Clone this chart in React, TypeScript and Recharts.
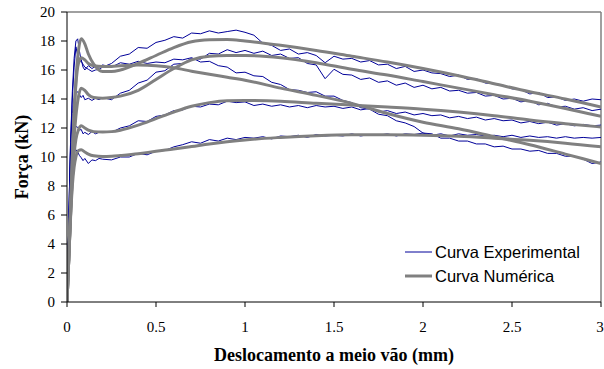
import React from "react";
import { Legend, Line, LineChart, ReferenceLine, XAxis, YAxis } from "recharts";

// x grid of the numerical (smooth) curves
const numX = [0, 0.01, 0.02, 0.03, 0.04, 0.05, 0.065, 0.08, 0.1, 0.12, 0.15, 0.2, 0.25, 0.3, 0.4, 0.5, 0.6, 0.7, 0.8, 0.9, 1.0, 1.2, 1.4, 1.6, 1.8, 2.0, 2.2, 2.4, 2.6, 2.8, 3.0];

const num1 = [0, 3, 6.5, 10, 13, 15.3, 17.4, 18.15, 17.8, 17.1, 16.4, 15.9, 15.9, 16.0, 16.45, 17.0, 17.55, 17.95, 18.08, 18.1, 18.0, 17.7, 17.35, 16.95, 16.55, 16.1, 15.6, 15.05, 14.5, 14.0, 13.45];
const num2 = [0, 3, 6, 9, 11.3, 12.8, 14.2, 14.75, 14.6, 14.3, 14.1, 14.05, 14.1, 14.2, 14.6, 15.35, 16.1, 16.7, 16.95, 17.0, 17.0, 16.85, 16.5, 16.05, 15.65, 15.2, 14.75, 14.3, 13.85, 13.35, 12.8];
const num3 = [0, 3, 6.5, 10, 13, 15.0, 16.5, 16.85, 16.7, 16.45, 16.3, 16.25, 16.25, 16.3, 16.35, 16.3, 16.15, 15.92, 15.7, 15.5, 15.3, 14.75, 14.25, 13.7, 13.0, 12.4, 11.95, 11.4, 10.85, 10.2, 9.55];
const num4 = [0, 3, 6, 8.5, 10.2, 11.2, 11.9, 12.15, 12.0, 11.85, 11.75, 11.72, 11.75, 11.85, 12.2, 12.65, 13.1, 13.5, 13.75, 13.88, 13.9, 13.85, 13.7, 13.58, 13.45, 13.3, 13.1, 12.85, 12.55, 12.3, 12.07];
const num5 = [0, 3, 5.8, 8, 9.3, 10.0, 10.45, 10.5, 10.35, 10.2, 10.08, 10.03, 10.05, 10.1, 10.22, 10.4, 10.55, 10.72, 10.9, 11.05, 11.18, 11.35, 11.47, 11.53, 11.53, 11.5, 11.43, 11.3, 11.15, 10.95, 10.7];

// x grid of the experimental (noisy) curves
const expX = [
  0, 0.005, 0.01, 0.015, 0.02, 0.03, 0.04, 0.05, 0.06, 0.07, 0.08, 0.09, 0.1, 0.12, 0.14, 0.16, 0.18, 0.2,
  0.25, 0.3, 0.35, 0.4, 0.45, 0.5, 0.55, 0.6, 0.65, 0.7, 0.75, 0.8, 0.85, 0.9, 0.95, 1.0,
  1.05, 1.1, 1.15, 1.2, 1.25, 1.3, 1.35, 1.4, 1.45, 1.5, 1.55, 1.6, 1.65, 1.7, 1.75, 1.8,
  1.85, 1.9, 1.95, 2.0, 2.05, 2.1, 2.15, 2.2, 2.25, 2.3, 2.35, 2.4, 2.45, 2.5, 2.55, 2.6,
  2.65, 2.7, 2.75, 2.8, 2.85, 2.9, 2.95, 3.0,
];

const exp1 = [
  0, 2.5, 5.5, 8.5, 11, 14.5, 16.8, 18.0, 18.15, 17.3, 16.6, 16.4, 16.2, 16.05, 15.9, 16.0, 16.05, 16.2,
  16.45, 16.95, 17.1, 17.55, 17.5, 17.9, 18.05, 18.3, 18.2, 18.55, 18.5, 18.7, 18.55, 18.65, 18.75, 18.6,
  18.4, 17.85, 17.7, 17.35, 17.45, 17.1, 17.2, 17.0, 16.5, 16.95, 16.75, 16.8, 16.55, 16.65, 16.35, 16.4,
  16.1, 16.25, 15.9, 16.0, 15.8, 15.75, 15.55, 15.65, 15.35, 15.4, 15.1, 15.05, 14.95, 14.7, 14.65, 14.35,
  14.45, 14.1, 14.15, 13.9, 14.0, 13.85, 14.0, 13.95,
];
const exp2 = [
  0, 2.5, 5.5, 8.5, 10.5, 13.0, 14.0, 14.4, 14.5, 14.3, 14.1, 14.25, 13.95, 14.05, 13.9, 14.05, 13.95, 14.1,
  13.95, 14.4, 14.6, 15.1, 15.3, 15.85, 15.95, 16.4, 16.45, 16.8, 16.75, 17.15, 17.1, 17.4, 17.2, 17.35,
  17.15, 17.3, 17.0, 17.1, 16.8, 16.85, 16.45, 16.35, 15.4, 16.05, 15.7, 15.65, 15.35, 15.45, 15.15, 15.25,
  14.95, 15.1, 14.8, 14.95, 14.7, 14.8, 14.55, 14.6, 14.4, 14.45, 14.2, 14.25, 14.0, 14.05, 13.8, 13.9,
  13.6, 13.7, 13.45, 13.5, 13.3, 13.4, 13.2, 13.3,
];
const exp3 = [
  0, 2.5, 5.5, 8.5, 11, 14.0, 16.2, 17.6, 17.0, 16.5, 16.7, 16.2, 16.0, 16.3, 16.1, 16.25, 16.2, 16.35,
  16.2, 16.5, 16.4, 16.6, 16.45, 16.55, 16.5, 16.75, 16.7, 16.85, 16.55, 16.6, 16.3, 16.2, 15.8, 15.85,
  15.6, 15.55, 15.15, 15.0, 14.65, 14.6, 14.45, 14.5, 14.2, 14.2, 13.9, 13.75, 13.4, 13.3, 12.95, 12.85,
  12.5, 12.35, 12.1, 11.65, 11.6, 11.3, 11.3, 11.1, 11.1, 10.9, 10.9, 10.7, 10.75, 10.55, 10.55, 10.4,
  10.45, 10.25, 10.25, 10.05, 10.05, 9.85, 9.55, 9.65,
];
const exp4 = [
  0, 2.5, 5.0, 7.5, 9.5, 11.2, 11.9, 12.1, 12.05, 11.85, 11.9, 11.6, 11.7, 11.55, 11.75, 11.6, 11.7, 11.75,
  11.7, 12.0, 12.15, 12.5, 12.45, 12.8, 12.9, 13.2, 13.25, 13.5, 13.45, 13.65, 13.6, 13.85, 13.75, 13.8,
  13.55, 13.65, 13.5, 13.6, 13.45, 13.55, 13.4, 13.55, 13.45, 13.5, 13.35, 13.45, 13.25, 13.35, 13.1, 13.2,
  13.0, 13.1, 12.9, 13.0, 12.85, 12.9, 12.7, 12.8, 12.65, 12.75, 12.55, 12.65, 12.5, 12.55, 12.35, 12.45,
  12.3, 12.4, 12.2, 12.3, 12.15, 12.25, 12.15, 12.2,
];
const exp5 = [
  0, 2.5, 5.0, 7.0, 8.5, 9.8, 10.3, 10.5, 10.35, 10.1, 9.95, 9.75, 9.9, 9.55, 9.8, 9.75, 9.9, 9.85,
  9.8, 10.0, 10.0, 10.25, 10.15, 10.4, 10.45, 10.7, 10.85, 11.05, 10.95, 11.2, 11.1, 11.3, 11.2, 11.35,
  11.3, 11.4, 11.25, 11.45, 11.4, 11.5, 11.35, 11.55, 11.45, 11.5, 11.45, 11.6, 11.45, 11.55, 11.5, 11.6,
  11.45, 11.6, 11.55, 11.65, 11.5, 11.6, 11.45, 11.6, 11.5, 11.55, 11.45, 11.5, 11.4, 11.5, 11.35, 11.45,
  11.35, 11.4, 11.3, 11.4, 11.3, 11.35, 11.3, 11.35,
];

const xTicks = [0, 0.5, 1, 1.5, 2, 2.5, 3];
const yTicks = [0, 2, 4, 6, 8, 10, 12, 14, 16, 18, 20];

const BLUE = "#000099";
const GRAY = "#808080";
const SERIF = '"Liberation Serif", "Times New Roman", serif';
const SANS = '"Liberation Sans", Arial, sans-serif';

const toPoints = (xs: number[], ys: number[]) => xs.map((x, i) => ({ x, y: ys[i] }));

const expSeries = [exp1, exp2, exp3, exp4, exp5].map((ys) => toPoints(expX, ys));
const numSeries = [num1, num2, num3, num4, num5].map((ys) => toPoints(numX, ys));

const legendItems = [
  { label: "Curva Experimental", color: BLUE, width: 1 },
  { label: "Curva Numérica", color: GRAY, width: 3 },
];

const tickFont = { fontFamily: SERIF, fontSize: 15 };

function XTick(props: any) {
  const { x, y, payload } = props;
  return (
    <text x={x} y={y + 11} textAnchor="middle" fill="#000" style={tickFont}>
      {payload.value}
    </text>
  );
}

function YTick(props: any) {
  const { x, y, payload } = props;
  return (
    <text x={x} y={y + 5} textAnchor="end" fill="#000" style={tickFont}>
      {payload.value}
    </text>
  );
}

function YTitle() {
  return (
    <text x={22} y={157} transform="rotate(-90 22 157)" textAnchor="middle" dominantBaseline="central"
      style={{ fontFamily: SERIF, fontWeight: "bold", fontSize: 18 }} fill="#000">
      Força (kN)
    </text>
  );
}

function XTitle() {
  return (
    <text x={334} y={361} textAnchor="middle" style={{ fontFamily: SERIF, fontWeight: "bold", fontSize: 18 }} fill="#000">
      Deslocamento a meio vão (mm)
    </text>
  );
}

function LegendBox() {
  return (
    <div style={{ fontFamily: SANS, fontSize: 16.5, color: "#000" }}>
      {legendItems.map((item) => (
        <div key={item.label} style={{ display: "flex", alignItems: "center", height: 24 }}>
          <svg width={27} height={6}>
            <line x1={0} y1={3} x2={27} y2={3} stroke={item.color} strokeWidth={item.width} />
          </svg>
          <span style={{ marginLeft: 3, whiteSpace: "nowrap" }}>{item.label}</span>
        </div>
      ))}
    </div>
  );
}

export default function App() {
  return (
    <div style={{ position: "absolute", left: 0, top: 0, width: 604, height: 369, background: "#fff", fontFamily: SERIF }}>
      <LineChart width={604} height={369} margin={{ top: 12, right: 3, bottom: 0, left: 0 }}>
        <XAxis type="number" dataKey="x" domain={[0, 3]} ticks={xTicks} allowDataOverflow
          height={67} tickSize={5} tickMargin={14} tick={<XTick />}
          axisLine={{ stroke: "#000" }} tickLine={{ stroke: "#000" }} label={<XTitle />} />
        <YAxis type="number" domain={[0, 20]} ticks={yTicks} allowDataOverflow width={67}
          tickSize={6} tickMargin={6} tick={<YTick />}
          axisLine={{ stroke: "#000" }} tickLine={{ stroke: "#000" }} label={<YTitle />} />
        <ReferenceLine y={20} stroke={GRAY} strokeWidth={1.5} />
        <ReferenceLine x={3} stroke={GRAY} strokeWidth={1.5} />
        {expSeries.map((d, i) => (
          <Line key={"e" + i} data={d} dataKey="y" type="linear" stroke={BLUE} strokeWidth={1}
            dot={false} activeDot={false} isAnimationActive={false} legendType="none" />
        ))}
        {numSeries.map((d, i) => (
          <Line key={"n" + i} data={d} dataKey="y" type="monotone" stroke={GRAY} strokeWidth={3}
            dot={false} activeDot={false} isAnimationActive={false} legendType="none" />
        ))}
        <Legend layout="horizontal" verticalAlign="middle" align="center"
          wrapperStyle={{ left: 405, top: 240, width: 200 }} content={() => <LegendBox />} />
      </LineChart>
    </div>
  );
}
